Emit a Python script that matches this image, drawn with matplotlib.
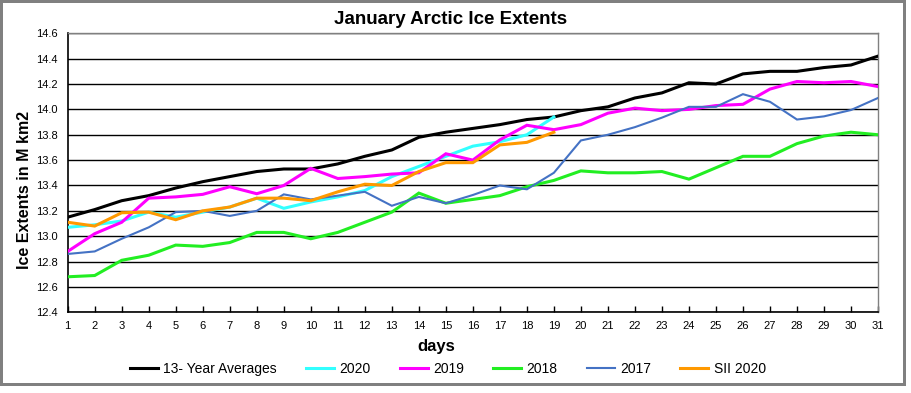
import matplotlib
matplotlib.use("Agg")
import matplotlib.pyplot as plt
from matplotlib.patches import Rectangle

days = list(range(1, 32))
avg13 = [13.15, 13.21, 13.28, 13.32, 13.38, 13.43, 13.47, 13.51, 13.53, 13.53,
         13.57, 13.63, 13.68, 13.78, 13.82, 13.85, 13.88, 13.92, 13.94, 13.99,
         14.02, 14.09, 14.13, 14.21, 14.20, 14.28, 14.30, 14.30, 14.33, 14.35, 14.42]
y2020 = [13.07, 13.09, 13.12, 13.19, 13.15, 13.19, 13.23, 13.30, 13.22, 13.27,
         13.31, 13.36, 13.47, 13.55, 13.63, 13.71, 13.745, 13.80, 13.94]
y2019 = [12.88, 13.02, 13.11, 13.30, 13.31, 13.33, 13.39, 13.335, 13.40, 13.535,
         13.455, 13.47, 13.49, 13.50, 13.65, 13.60, 13.76, 13.875, 13.84, 13.88,
         13.97, 14.01, 13.99, 14.00, 14.03, 14.04, 14.16, 14.22, 14.21, 14.22, 14.18]
y2018 = [12.68, 12.69, 12.81, 12.85, 12.93, 12.92, 12.95, 13.03, 13.03, 12.98,
         13.03, 13.11, 13.19, 13.34, 13.26, 13.29, 13.32, 13.39, 13.44, 13.515,
         13.50, 13.50, 13.51, 13.45, 13.54, 13.63, 13.63, 13.73, 13.79, 13.82, 13.80]
y2017 = [12.86, 12.88, 12.98, 13.07, 13.19, 13.20, 13.16, 13.20, 13.33, 13.29,
         13.32, 13.35, 13.24, 13.31, 13.26, 13.325, 13.40, 13.37, 13.50, 13.755,
         13.80, 13.86, 13.935, 14.02, 14.02, 14.12, 14.06, 13.92, 13.945, 13.995, 14.09]
sii2020 = [13.11, 13.08, 13.185, 13.19, 13.13, 13.20, 13.23, 13.30, 13.30, 13.28,
           13.35, 13.41, 13.40, 13.51, 13.58, 13.58, 13.72, 13.74, 13.82]

series = [
    ("13- Year Averages", avg13, "#000000", 2.2),
    ("2020", y2020, "#33FFFF", 2.2),
    ("2019", y2019, "#FF00FF", 2.2),
    ("2018", y2018, "#22EE22", 2.2),
    ("2017", y2017, "#4472C4", 1.5),
    ("SII 2020", sii2020, "#FF9900", 2.2),
]
yticks = [12.4, 12.6, 12.8, 13.0, 13.2, 13.4, 13.6, 13.8, 14.0, 14.2, 14.4, 14.6]

plt.rcParams['font.family'] = ['Liberation Sans', 'DejaVu Sans']

W, H = 911, 393
fig = plt.figure(figsize=(W / 100, H / 100), dpi=100)
fig.patch.set_facecolor("white")

def px_rect(x0, y0, x1, y1, color):
    fig.patches.append(Rectangle((x0 / W, 1 - y1 / H), (x1 - x0) / W, (y1 - y0) / H,
                                 transform=fig.transFigure, facecolor=color,
                                 edgecolor="none", zorder=-5))

gray = "#808080"
px_rect(0, 0, 906, 3, gray)
px_rect(0, 0, 3, 386, gray)
px_rect(903, 0, 906, 386, gray)
px_rect(0, 383, 906, 386, gray)

ax = fig.add_axes([67.7 / W, 1 - 312.3 / H, (878 - 67.7) / W, (312.3 - 33.3) / H])
for lab, vals, col, lw in series:
    ax.plot(days[:len(vals)], vals, color=col, lw=lw, label=lab, zorder=3,
            solid_joinstyle="miter")

ax.set_xlim(1, 31)
ax.set_ylim(12.4, 14.6)
ax.set_xticks(days)
ax.set_yticks(yticks)
ax.set_yticklabels([f"{v:.1f}" for v in yticks])
ax.tick_params(axis="x", direction="in", length=4, width=1, labelsize=8, pad=6)
ax.tick_params(axis="y", direction="in", length=0, labelsize=8, pad=7)
ax.grid(axis="y", color="black", lw=1.0)
ax.set_axisbelow(True)
for s in ("left", "bottom"):
    ax.spines[s].set_color("black")
    ax.spines[s].set_linewidth(1.2)
for s in ("top", "right"):
    ax.spines[s].set_color(gray)
    ax.spines[s].set_linewidth(1.0)

fig.text(451 / W, 1 - 19 / H, "January Arctic Ice Extents", ha="center", va="center",
         fontsize=13.5, fontweight="bold")
fig.text(25 / W, 1 - 190 / H, "Ice Extents in M km2", ha="center", va="center",
         rotation=90, fontsize=11.5, fontweight="bold")
fig.text(436 / W, 1 - 346 / H, "days", ha="center", va="center",
         fontsize=12, fontweight="bold")

leg = fig.legend(loc="center", bbox_to_anchor=(448 / W, 1 - 369 / H), ncol=6,
                 frameon=False, fontsize=10, handlelength=2.0, handletextpad=0.4,
                 columnspacing=2.1, borderaxespad=0)

fig.savefig("out.png", dpi=100, facecolor="white")
